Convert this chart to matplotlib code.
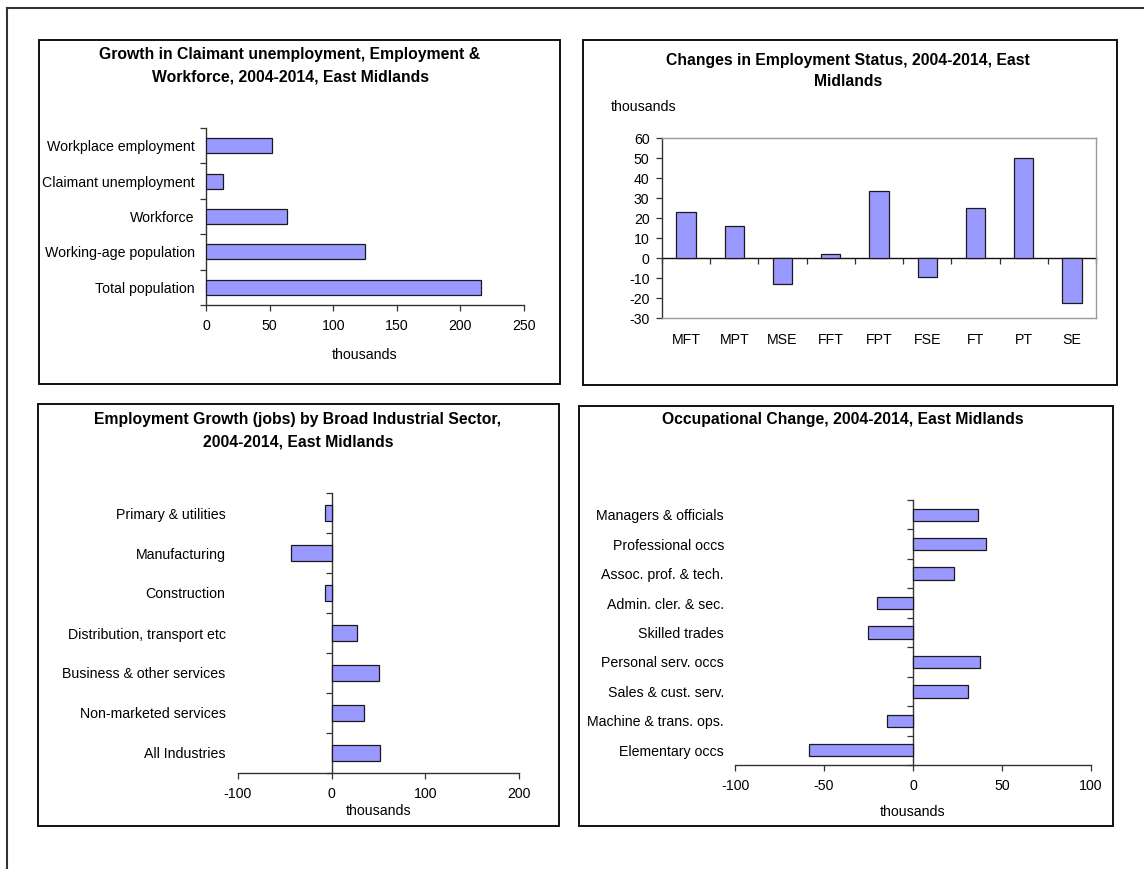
import matplotlib
matplotlib.use("Agg")
import matplotlib.pyplot as plt
from matplotlib.patches import Rectangle
from matplotlib.lines import Line2D
import numpy as np

plt.rcParams['font.family'] = ['Liberation Sans', 'DejaVu Sans']

# ---------------- data ----------------
p1_title = ["Growth in Claimant unemployment, Employment &",
            "Workforce, 2004-2014, East Midlands"]
p1_cats = ["Workplace employment", "Claimant unemployment", "Workforce",
           "Working-age population", "Total population"]
p1_vals = [52, 13, 64, 125, 216]
p1_xticks = [0, 50, 100, 150, 200, 250]

p2_title = ["Changes in Employment Status, 2004-2014, East", "Midlands"]
p2_cats = ["MFT", "MPT", "MSE", "FFT", "FPT", "FSE", "FT", "PT", "SE"]
p2_vals = [23, 16, -13, 2, 33.5, -9.5, 25, 50, -22.5]
p2_yticks = [-30, -20, -10, 0, 10, 20, 30, 40, 50, 60]

p3_title = ["Employment Growth (jobs) by Broad Industrial Sector,",
            "2004-2014, East Midlands"]
p3_cats = ["Primary & utilities", "Manufacturing", "Construction",
           "Distribution, transport etc", "Business & other services",
           "Non-marketed services", "All Industries"]
p3_vals = [-7, -43, -7, 27.5, 50.5, 34.5, 52]
p3_xticks = [-100, 0, 100, 200]

p4_title = ["Occupational Change, 2004-2014, East Midlands"]
p4_cats = ["Managers & officials", "Professional occs", "Assoc. prof. & tech.",
           "Admin. cler. & sec.", "Skilled trades", "Personal serv. occs",
           "Sales & cust. serv.", "Machine & trans. ops.", "Elementary occs"]
p4_vals = [36.5, 41, 23, -20, -25.5, 37.5, 31, -14.5, -58.5]
p4_xticks = [-100, -50, 0, 50, 100]

# ---------------- style ----------------
W, H = 1144, 869
BAR = '#9999FF'
EDGE = '#1a1a1a'
LAB = 10.2
TIT = 11.3
fig = plt.figure(figsize=(W / 100, H / 100), dpi=100)


def fx(x):
    return x / W


def fy(y):
    return 1 - y / H


def box(x0, y0, x1, y1):
    fig.patches.append(Rectangle((fx(x0), fy(y1)), fx(x1 - x0), (y1 - y0) / H,
                                 transform=fig.transFigure, fill=False,
                                 edgecolor='#111111', linewidth=1.4))


def axes(x0, y0, x1, y1):
    return fig.add_axes([fx(x0), fy(y1), fx(x1 - x0), (y1 - y0) / H])


def title(lines, xc, ys):
    for line, y in zip(lines, ys):
        fig.text(fx(xc), fy(y), line, ha='center', va='center', fontsize=TIT,
                 fontweight='bold')


# outer frame (cut by the image edges)
fig.add_artist(Line2D([fx(7), fx(7)], [0, fy(8)], transform=fig.transFigure,
                      color='#333333', linewidth=1.5))
fig.add_artist(Line2D([fx(7), 1], [fy(8), fy(8)], transform=fig.transFigure,
                      color='#333333', linewidth=1.5))

box(39, 40, 560, 384)
box(583, 40, 1117, 385)
box(38, 404, 559, 826)
box(579, 406, 1113, 826)


def hbar_panel(ax, cats, vals, xticks, ylab_pad, zero_axis):
    n = len(cats)
    pos = np.arange(n)
    ax.barh(pos, vals, height=0.42, color=BAR, edgecolor=EDGE, linewidth=0.9, zorder=3)
    ax.set_ylim(n - 0.5, -0.5)
    ax.set_xlim(xticks[0], xticks[-1])
    ax.set_xticks(xticks)
    ax.set_xticklabels([str(t) for t in xticks], fontsize=LAB)
    ax.tick_params(axis='x', direction='out', length=4, width=0.9, color='#333333', pad=6)
    ax.set_yticks(pos)
    ax.set_yticklabels(cats, fontsize=LAB)
    ax.tick_params(axis='y', which='major', length=0, pad=ylab_pad)
    for s in ['top', 'right']:
        ax.spines[s].set_visible(False)
    ax.spines['bottom'].set_color('#333333')
    ax.spines['bottom'].set_linewidth(1.0)
    bounds = np.arange(n + 1) - 0.5
    if zero_axis:
        ax.spines['left'].set_visible(False)
        sec = ax.secondary_yaxis(0, transform=ax.transData)
        sec.set_yticks(bounds)
        sec.set_yticklabels([''] * len(bounds))
        sec.tick_params(axis='y', direction='out', length=4, width=0.9, color='#333333')
        sec.spines['left'].set_color('#333333')
        sec.spines['left'].set_linewidth(1.0)
    else:
        ax.spines['left'].set_color('#333333')
        ax.spines['left'].set_linewidth(1.0)
        ax.set_yticks(bounds, minor=True)
        ax.tick_params(axis='y', which='minor', direction='out', length=4, width=0.9,
                       color='#333333')
    ax.set_facecolor('none')


# ---------------- panel 1 ----------------
title(p1_title, 290, [54, 77])
ax1 = axes(206, 128, 524, 305)
hbar_panel(ax1, p1_cats, p1_vals, p1_xticks, 8, False)
ax1.set_xlabel("thousands", fontsize=LAB, labelpad=11)

# ---------------- panel 2 ----------------
title(p2_title, 848, [61, 82])
fig.text(fx(611), fy(107), "thousands", ha='left', va='center', fontsize=LAB)
ax2 = axes(662, 138, 1096, 318)
pos2 = np.arange(len(p2_cats))
ax2.bar(pos2, p2_vals, width=0.4, color=BAR, edgecolor=EDGE, linewidth=0.9, zorder=3)
ax2.set_xlim(-0.5, len(p2_cats) - 0.5)
ax2.set_ylim(p2_yticks[0], p2_yticks[-1])
ax2.set_yticks(p2_yticks)
ax2.set_yticklabels([str(t) for t in p2_yticks], fontsize=LAB)
ax2.tick_params(axis='y', direction='out', length=4, width=0.9, color='#333333', pad=5)
ax2.set_xticks(pos2)
ax2.set_xticklabels(p2_cats, fontsize=LAB)
ax2.tick_params(axis='x', length=0, pad=11)
for s in ['top', 'right', 'bottom']:
    ax2.spines[s].set_color('#999999')
    ax2.spines[s].set_linewidth(1.0)
ax2.spines['left'].set_color('#333333')
ax2.spines['left'].set_linewidth(1.0)
sec2 = ax2.secondary_xaxis(0, transform=ax2.transData)
b2 = np.arange(len(p2_cats) + 1) - 0.5
sec2.set_xticks(b2)
sec2.set_xticklabels([''] * len(b2))
sec2.tick_params(axis='x', direction='out', length=4, width=0.9, color='#333333')
sec2.spines['bottom'].set_color('#111111')
sec2.spines['bottom'].set_linewidth(1.0)

# ---------------- panel 3 ----------------
title(p3_title, 298, [419, 442])
ax3 = axes(238, 493, 519, 773)
hbar_panel(ax3, p3_cats, p3_vals, p3_xticks, 9, True)
ax3.set_xlabel("thousands", fontsize=LAB, labelpad=2)

# ---------------- panel 4 ----------------
title(p4_title, 843, [419])
ax4 = axes(735, 500, 1091, 765)
hbar_panel(ax4, p4_cats, p4_vals, p4_xticks, 8, True)
ax4.set_xlabel("thousands", fontsize=LAB, labelpad=9)

fig.savefig("out.png", dpi=100)
